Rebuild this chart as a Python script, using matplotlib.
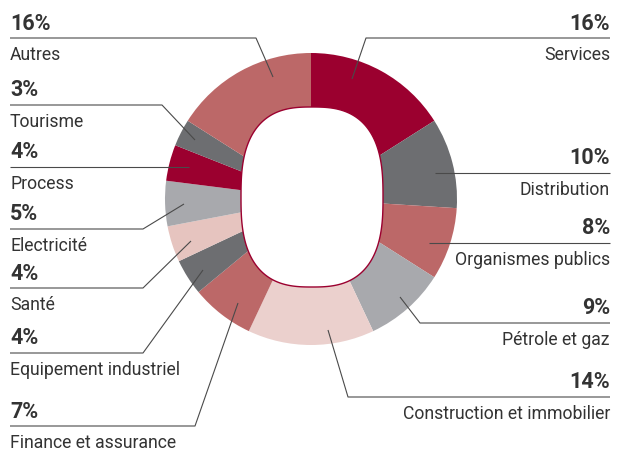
import numpy as np
import matplotlib
matplotlib.use("Agg")
import matplotlib.pyplot as plt
from matplotlib.patches import Polygon

# data, clockwise from 12 o'clock
sectors = ["Services", "Distribution", "Organismes publics", "Pétrole et gaz",
           "Construction et immobilier", "Finance et assurance", "Equipement industriel",
           "Santé", "Electricité", "Process", "Tourisme", "Autres"]
shares = [16, 10, 8, 9, 14, 7, 4, 4, 5, 4, 3, 16]

colors = ["#9b002f", "#6d6e71", "#bc6868", "#a8a9ad", "#ebd0cd", "#bc6868",
          "#6d6e71", "#e6c4bf", "#a8a9ad", "#9b002f", "#6d6e71", "#bc6868"]

# label layout in pixel coords: side, line y, end of horizontal, leader end
layout = {
    "Services": ("R", 38, 366, (352, 79)),
    "Distribution": ("R", 173, 435, (435, 173)),
    "Organismes publics": ("R", 243, 429, (429, 243)),
    "Pétrole et gaz": ("R", 323, 420, (400, 297)),
    "Construction et immobilier": ("R", 397, 348, (328, 330)),
    "Finance et assurance": ("L", 426, 195, (238, 303)),
    "Equipement industriel": ("L", 353, 143, (203, 270)),
    "Santé": ("L", 288, 143, (191, 241)),
    "Electricité": ("L", 229, 143, (184, 204)),
    "Process": ("L", 167, 189, (189, 167)),
    "Tourisme": ("L", 105, 162, (195, 140)),
    "Autres": ("L", 38, 256, (273, 77)),
}

W, H = 620, 451
cx, cy, R = 311, 199, 146
txt_col = "#333333"
line_col = "#4a4a4a"

fig = plt.figure(figsize=(W / 100, H / 100), dpi=100)
ax = fig.add_axes([0, 0, 1, 1])

# y axis inverted -> startangle -90 / counterclock gives clockwise from top
ax.pie(shares, colors=colors, startangle=-90, counterclock=True,
       center=(cx, cy), radius=R, wedgeprops=dict(linewidth=0))

# rounded hole
t = np.linspace(0, 2 * np.pi, 400)
n = 2.7
hx = 312 + 71 * np.sign(np.cos(t)) * np.abs(np.cos(t)) ** (2 / n)
hy = 197 + 90 * np.sign(np.sin(t)) * np.abs(np.sin(t)) ** (2 / n)
ax.add_patch(Polygon(np.column_stack([hx, hy]), closed=True, facecolor="white",
                     edgecolor="#9b002f", linewidth=1.0, zorder=3))

for name, val in zip(sectors, shares):
    side, ly, hend, (ex, ey) = layout[name]
    if side == "L":
        x0, ha = 10, "left"
    else:
        x0, ha = 610, "right"
    ax.plot([x0, hend, ex], [ly, ly, ey], color=line_col, lw=0.8, zorder=4,
            solid_capstyle="butt")
    ax.text(x0, ly - 8.5, f"{val}%", ha=ha, va="baseline", fontsize=15.5,
            fontweight="bold", family="Roboto", color=txt_col)
    ax.text(x0, ly + 22, name, ha=ha, va="baseline", fontsize=12.7,
            family="Roboto", color=txt_col)

ax.set_xlim(0, W)
ax.set_ylim(H, 0)
ax.set_aspect("auto")
ax.axis("off")

fig.savefig("out.png", dpi=100, facecolor="white")
